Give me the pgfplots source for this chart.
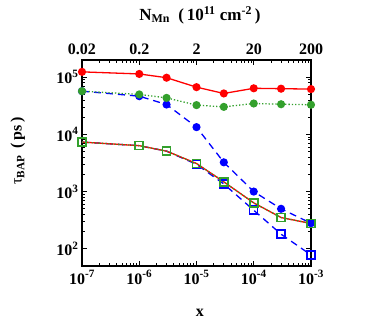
\documentclass[border=0pt]{standalone}
\usepackage{fontspec}
\setmainfont{Liberation Serif}
\usepackage{pgfplots}
\pgfplotsset{compat=1.18}
\definecolor{cred}{RGB}{255,0,0}
\definecolor{cgreen}{RGB}{51,160,44}
\definecolor{cblue}{RGB}{0,0,255}
\begin{document}
\begin{tikzpicture}[x=1pt,y=1pt]
\path[use as bounding box] (0,0) rectangle (390,327);
\begin{axis}[
  at={(82pt,61pt)}, anchor=south west,
  scale only axis, width=229pt, height=206pt,
  xmode=log, ymode=log,
  xmin=1e-7, xmax=1e-3, ymin=50, ymax=2e5,
  axis line style={line width=1.6pt},
  tick style={black, line width=0.9pt},
  major tick length=5pt, minor tick length=3pt,
  tick align=inside,
  xtick pos=bottom,
  ytick pos=both,
  xtick={1e-7,1e-6,1e-5,1e-4,1e-3},
  xticklabels={10\textsuperscript{-7},10\textsuperscript{-6},10\textsuperscript{-5},10\textsuperscript{-4},10\textsuperscript{-3}},
  ytick={1e2,1e3,1e4,1e5},
  yticklabels={10\textsuperscript{2},10\textsuperscript{3},10\textsuperscript{4},10\textsuperscript{5}},
  yticklabel pos=left,
  ticklabel style={font=\fontsize{16}{18}\selectfont\bfseries},
  xticklabel style={yshift=-1pt},
  xlabel={x},
  xlabel style={font=\fontsize{16}{18}\selectfont\bfseries, at={(axis description cs:0.515,-0.228)}, anchor=center},
  ylabel={{\mdseries τ}\textsubscript{BAP}\ \,(\,ps\,)},
  ylabel style={font=\fontsize{16}{18}\selectfont\bfseries, at={(axis description cs:-0.28,0.558)}, anchor=center},
  clip=false,
]
% red solid circles
\addplot[cred, line width=1.3pt, mark=*, mark size=3.4pt, mark options={solid}] coordinates {
 (1e-7,1.24e5) (1e-6,1.14e5) (3e-6,0.98e5) (1e-5,6.7e4) (3e-5,5.2e4) (1e-4,6.4e4) (3e-4,6.3e4) (1e-3,6.2e4)};
% blue dashed circles
\addplot[cblue, line width=1.3pt, dash pattern=on 7pt off 5pt, mark=*, mark size=3.4pt, mark options={solid}] coordinates {
 (1e-7,5.7e4) (1e-6,4.66e4) (3e-6,3.33e4) (1e-5,1.34e4) (3e-5,3.25e3) (1e-4,1.0e3) (3e-4,5.0e2) (1e-3,2.8e2)};
% green dotted circles
\addplot[cgreen, line width=1.3pt, dotted, mark=*, mark size=3.4pt, mark options={solid}] coordinates {
 (1e-7,5.7e4) (1e-6,5.0e4) (3e-6,4.35e4) (1e-5,3.25e4) (3e-5,3.03e4) (1e-4,3.47e4) (3e-4,3.37e4) (1e-3,3.3e4)};
% blue dashed open squares
\addplot[cblue, line width=1.3pt, dash pattern=on 7pt off 5pt, mark=square, mark size=4pt, mark options={solid, line width=1.5pt}] coordinates {
 (1e-7,7.35e3) (1e-6,6.35e3) (3e-6,5.1e3) (1e-5,3.0e3) (3e-5,1.36e3) (1e-4,4.72e2) (3e-4,1.8e2) (1e-3,78)};
% red solid open squares
\addplot[cred, line width=1.3pt, mark=square, mark size=4pt, mark options={solid, line width=1.5pt}] coordinates {
 (1e-7,7.35e3) (1e-6,6.35e3) (3e-6,5.1e3) (1e-5,3.1e3) (3e-5,1.48e3) (1e-4,6.35e2) (3e-4,3.52e2) (1e-3,2.77e2)};
% green dotted open squares
\addplot[cgreen, line width=1.3pt, dotted, mark=square, mark size=4pt, mark options={solid, line width=1.6pt}] coordinates {
 (1e-7,7.35e3) (1e-6,6.35e3) (3e-6,5.1e3) (1e-5,3.1e3) (3e-5,1.48e3) (1e-4,6.35e2) (3e-4,3.52e2) (1e-3,2.77e2)};
\end{axis}
\begin{axis}[
  at={(82pt,61pt)}, anchor=south west,
  scale only axis, width=229pt, height=206pt,
  xmode=log, xmin=0.02, xmax=200, ymin=0, ymax=1,
  axis x line*=top, axis y line=none,
  axis line style={line width=1.6pt, -},
  tick style={black, line width=0.9pt},
  major tick length=5pt,
  tick align=inside,
  minor xtick={},
  xtick={0.02,0.2,2,20,200},
  xticklabels={0.02,0.2,2,20,200},
  ticklabel style={font=\fontsize{16}{18}\selectfont\bfseries},
  xticklabel style={yshift=2pt},
  xlabel={N\textsubscript{Mn}\ \ (\,10\textsuperscript{11} cm\textsuperscript{-2}\,)},
  xlabel style={font=\fontsize{17}{19}\selectfont\bfseries, at={(axis description cs:0.515,1.218)}, anchor=center},
]
\end{axis}
\end{tikzpicture}
\end{document}
